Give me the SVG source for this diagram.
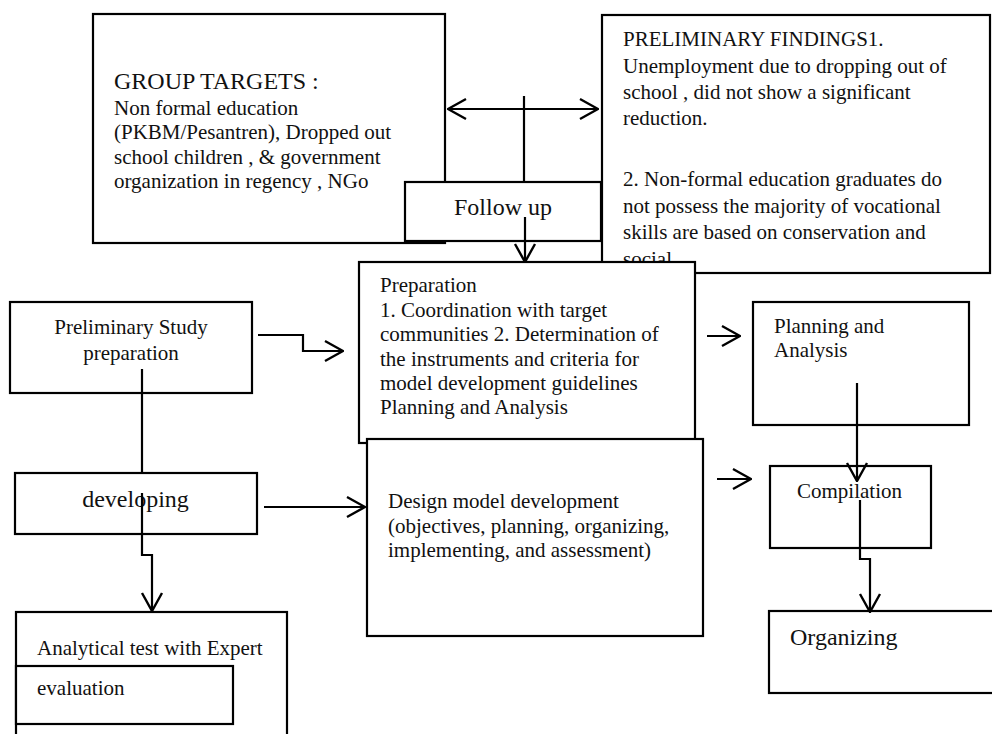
<svg xmlns="http://www.w3.org/2000/svg" width="992" height="734" viewBox="0 0 992 734">
<style>
.box{fill:#fff;stroke:#000;stroke-width:2.2}
.t{font-family:"Liberation Serif","Times New Roman",serif;font-size:21px;fill:#111}
.h{font-family:"Liberation Serif","Times New Roman",serif;font-size:24px;fill:#111}
.c{fill:none;stroke:#000;stroke-width:2.2}
</style>
<defs>
<marker id="arr" markerUnits="userSpaceOnUse" viewBox="0 0 20 24" markerWidth="20" markerHeight="24" refX="19" refY="12" orient="auto-start-reverse">
<path d="M1,2 L19,12 L1,22" fill="none" stroke="#000" stroke-width="2.4"/>
</marker>
</defs>
<rect width="992" height="734" fill="#fff"/>
<g id="group-targets">
<rect class="box" x="93" y="14" width="352" height="229"/>
<text class="h" x="114" y="89">GROUP TARGETS :</text>
<text class="t" x="114" y="114.5">Non formal education</text>
<text class="t" x="114" y="139">(PKBM/Pesantren), Dropped out</text>
<text class="t" x="114" y="163.5">school children , &amp; government</text>
<text class="t" x="114" y="188">organization in regency , NGo</text>
</g>
<g id="preliminary-findings">
<rect class="box" x="602" y="15" width="388" height="258"/>
<text class="t" x="623" y="46">PRELIMINARY FINDINGS1.</text>
<text class="t" x="623" y="73">Unemployment due to dropping out of</text>
<text class="t" x="623" y="99">school , did not show a significant</text>
<text class="t" x="623" y="125">reduction.</text>
<text class="t" x="623" y="186">2. Non-formal education graduates do</text>
<text class="t" x="623" y="213">not possess the majority of vocational</text>
<text class="t" x="623" y="239">skills are based on conservation and</text>
<text class="t" x="623" y="266">social.</text>
</g>
<g id="follow-up">
<rect class="box" x="405" y="182" width="196" height="59"/>
<text class="h" x="503" y="215" text-anchor="middle">Follow up</text>
</g>
<g id="preliminary-study">
<rect class="box" x="10" y="302" width="242" height="91"/>
<text class="t" x="131" y="334" text-anchor="middle">Preliminary Study</text>
<text class="t" x="131" y="360" text-anchor="middle">preparation</text>
</g>
<g id="preparation">
<rect class="box" x="359" y="262" width="336" height="181"/>
<text class="t" x="380" y="292">Preparation</text>
<text class="t" x="380" y="317">1. Coordination with target</text>
<text class="t" x="380" y="341">communities 2. Determination of</text>
<text class="t" x="380" y="366">the instruments and criteria for</text>
<text class="t" x="380" y="390">model development guidelines</text>
<text class="t" x="380" y="414">Planning and Analysis</text>
</g>
<g id="design">
<rect class="box" x="367" y="439" width="336" height="197"/>
<text class="t" x="388" y="508">Design model development</text>
<text class="t" x="388" y="532.5">(objectives, planning, organizing,</text>
<text class="t" x="388" y="557">implementing, and assessment)</text>
</g>
<g id="planning">
<rect class="box" x="753" y="302" width="216" height="123"/>
<text class="t" x="774" y="333">Planning and</text>
<text class="t" x="774" y="357">Analysis</text>
</g>
<g id="compilation">
<rect class="box" x="770" y="466" width="161" height="82"/>
<text class="t" x="797" y="498">Compilation</text>
</g>
<g id="organizing">
<rect class="box" x="769" y="611" width="230" height="82"/>
<text class="h" x="790" y="645">Organizing</text>
</g>
<g id="developing">
<rect class="box" x="15" y="473" width="242" height="61"/>
<text class="h" x="135.5" y="507" text-anchor="middle">developing</text>
</g>
<g id="analytical">
<rect class="box" x="16" y="612" width="271" height="130"/>
<text class="t" x="37" y="655">Analytical test with Expert</text>
</g>
<g id="evaluation">
<rect class="box" x="16" y="666" width="217" height="58"/>
<text class="t" x="37" y="695">evaluation</text>
</g>
<g id="connectors">
<path class="c" d="M448,109 H598" marker-start="url(#arr)" marker-end="url(#arr)"/>
<path class="c" d="M524,96 V182"/>
<path class="c" d="M525,217 V262" marker-end="url(#arr)"/>
<path class="c" d="M258,335 H303 V351 H343" marker-end="url(#arr)"/>
<path class="c" d="M142,369 V473"/>
<path class="c" d="M142,493 V555 H152 V611" marker-end="url(#arr)"/>
<path class="c" d="M264,507 H365" marker-end="url(#arr)"/>
<path class="c" d="M707,336 H740" marker-end="url(#arr)"/>
<path class="c" d="M717,479 H751" marker-end="url(#arr)"/>
<path class="c" d="M857,383 V481" marker-end="url(#arr)"/>
<path class="c" d="M860,500 V559 H870 V612" marker-end="url(#arr)"/>
</g>
</svg>
